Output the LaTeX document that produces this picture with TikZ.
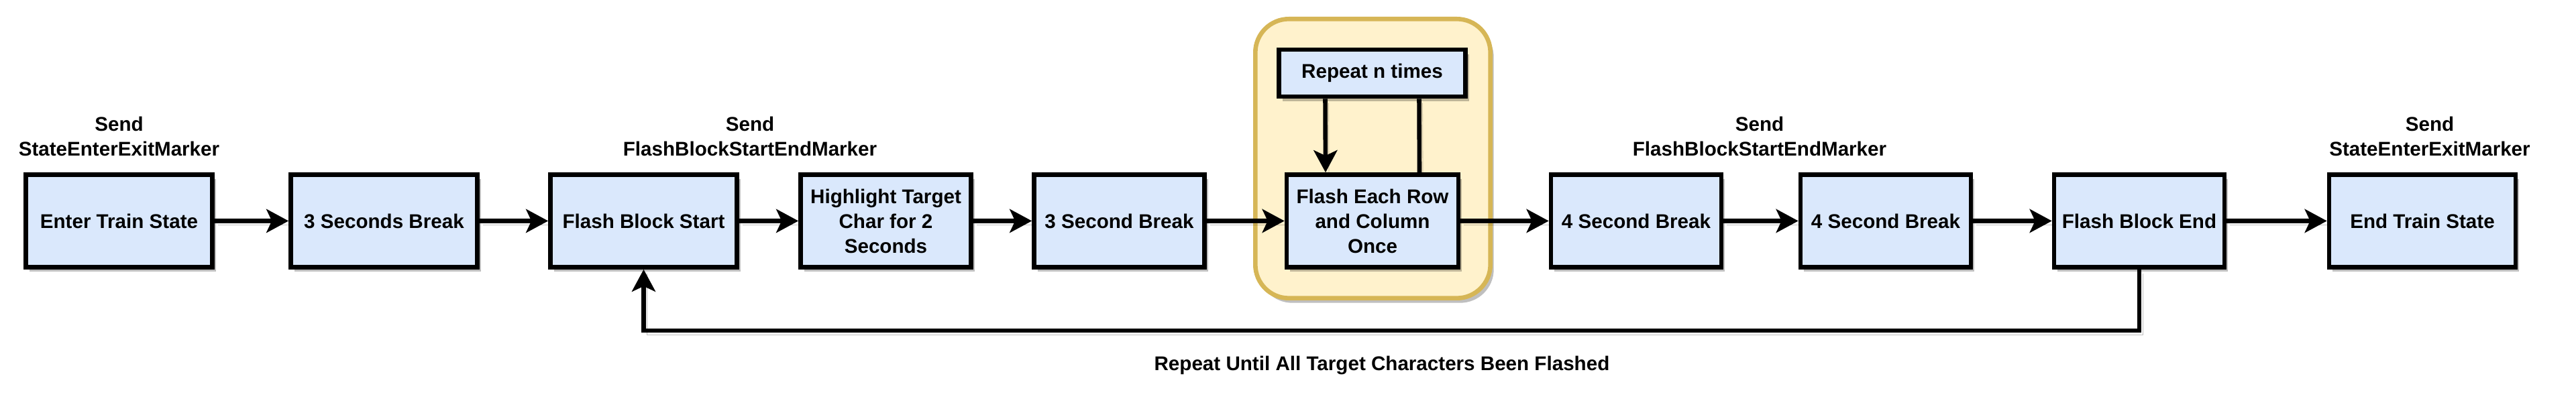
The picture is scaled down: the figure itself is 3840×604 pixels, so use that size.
\documentclass[tikz,border=0pt]{standalone}
\usepackage{fontspec}
\setmainfont{Liberation Sans}
\usetikzlibrary{arrows.meta,shadows}

\definecolor{boxblue}{HTML}{DAE8FC}
\definecolor{loopfill}{HTML}{FFF2CC}
\definecolor{loopline}{HTML}{D6B656}
\newcommand{\boxfont}{\fontsize{14.8}{18.5}\selectfont\bfseries}

\begin{document}
\begin{tikzpicture}
[
  x=0.5pt, y=0.5pt,
  boxshadow/.style={drop shadow={shadow xshift=2.5pt,shadow yshift=-3.5pt,fill=black,opacity=0.25}},
  lineshadow/.style={preaction={draw=black,draw opacity=0.25,-,transform canvas={xshift=2.5pt,yshift=-3pt}}},
  block/.style={draw,line width=3.3pt,fill=boxblue,minimum width=139pt,minimum height=69pt,align=center,font=\boxfont,boxshadow},
  slimblock/.style={block,minimum width=127pt},
  loopframe/.style={draw=loopline,line width=3.3pt,fill=loopfill,rounded corners=25pt,minimum width=175.2pt,minimum height=208.2pt,boxshadow},
  marker/.style={align=center,font=\boxfont},
  flow/.style={line width=3.3pt,-{Stealth[length=16.5pt,width=17.5pt,inset=4pt]},lineshadow}
]
\useasboundingbox (0,0) rectangle (3840,604);

\node[loopframe] (grp) at (2046.5,367.5) {};

\node[block] (enter) at (177.5,274.5) {Enter Train State};
\node[block] (brk3a) at (572.5,274.5) {3 Seconds Break};
\node[block] (fbs) at (959.5,274.5) {Flash Block Start};
\node[slimblock] (hl) at (1320.5,274.5) {Highlight Target\\Char for 2\\Seconds};
\node[slimblock] (brk3b) at (1668.5,274.5) {3 Second Break};
\node[slimblock,minimum width=128pt] (flash) at (2046,274.5) {Flash Each Row\\and Column\\Once};
\node[block,minimum height=35pt] (rep) at (2045.5,495) {Repeat n times};
\node[slimblock] (brk4a) at (2439,274.5) {4 Second Break};
\node[slimblock] (brk4b) at (2811,274.5) {4 Second Break};
\node[slimblock] (fbe) at (3189,274.5) {Flash Block End};
\node[block] (endst) at (3611,274.5) {End Train State};

\node[marker] (sendA) at (177.5,400.5) {Send\\StateEnterExitMarker};
\node[marker] (sendB) at (1118,400.5) {Send\\FlashBlockStartEndMarker};
\node[marker] (sendC) at (2623,400.5) {Send\\FlashBlockStartEndMarker};
\node[marker] (sendD) at (3622,400.5) {Send\\StateEnterExitMarker};

\draw[flow] (enter) -- (brk3a);
\draw[flow] (brk3a) -- (fbs);
\draw[flow] (fbs) -- (hl);
\draw[flow] (hl) -- (brk3b);
\draw[flow] (brk3b) -- (flash);
\draw[flow] (flash) -- (brk4a);
\draw[flow] (brk4a) -- (brk4b);
\draw[flow] (brk4b) -- (fbe);
\draw[flow] (fbe) -- (endst);

\draw[flow] ([xshift=-35pt]rep.south) -- ([xshift=-35pt]flash.north);
\draw[flow,-] ([xshift=35pt]flash.north) -- ([xshift=35pt]rep.south);

\coordinate (loopy) at (0,111);
\draw[flow] (fbe.south) -- (fbe.south |- loopy) -| (fbs.south);
\node[marker] (looplbl) at (2060,59) {Repeat Until All Target Characters Been Flashed};
\end{tikzpicture}
\end{document}
